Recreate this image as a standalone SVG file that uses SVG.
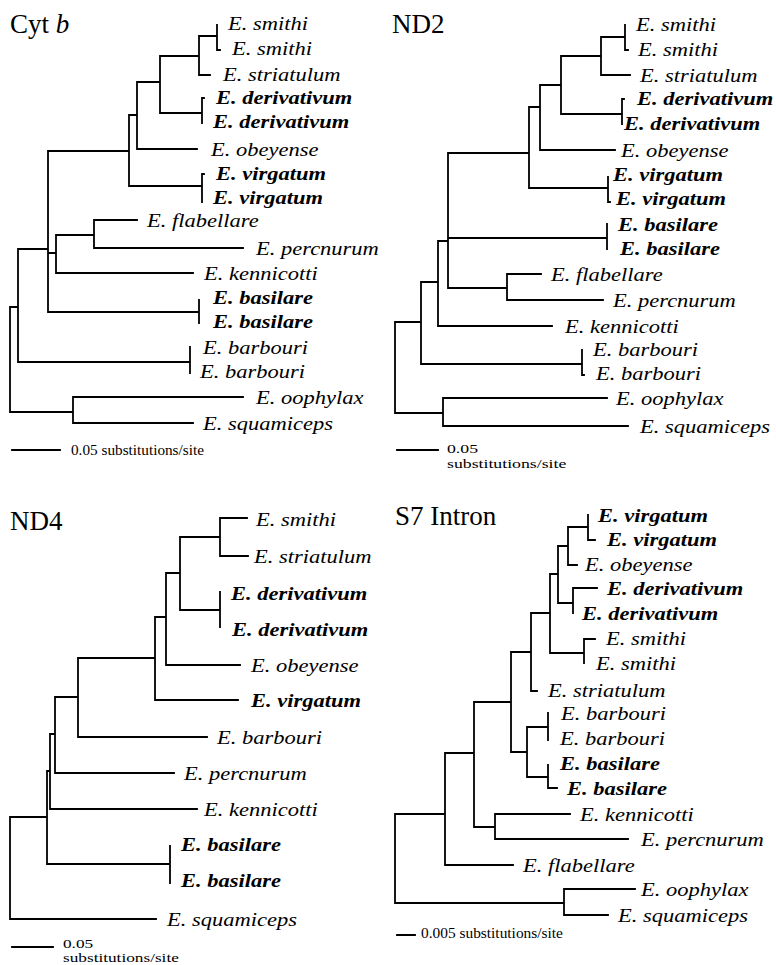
<svg xmlns="http://www.w3.org/2000/svg" width="776" height="965" viewBox="0 0 776 965">
<style>
.lab{font-family:"Liberation Serif","Times New Roman",serif;font-style:italic;font-size:19.5px;fill:#000}
.b{font-weight:bold}
.title{font-family:"Liberation Serif","Times New Roman",serif;font-size:27px;fill:#000}
.sc{font-family:"Liberation Serif","Times New Roman",serif;font-size:14px;fill:#000}
.sc2{font-family:"Liberation Serif","Times New Roman",serif;font-size:12.5px;fill:#000}
.br{fill:none;stroke:#000;stroke-width:1.8;stroke-linecap:square}
</style>
<rect width="776" height="965" fill="#fff"/>
<g id="connectors">
<path id="cytb-tree" class="br" d="M10 307V412M10 307H18M10 412H73
M18 249V362M18 249H48M18 362H190
M48 151V312M48 151H129M48 253H56M48 312H199
M56 235V273M56 235H94M56 273H193
M94 220V248M94 220H137M94 248H243
M129 115V186M129 115H137M129 186H202
M137 82V149M137 82H160M137 149H197
M160 56V113M160 56H199M160 113H202
M199 36V75M199 36H217M199 75H210
M217 25V50M217 50H220
M202 98V123M202 98H204
M202 174V202M202 174H204
M199 300V323
M190 347V373
M73 397V423M73 397H243M73 423H193
M12 450H60"/>
<path id="nd2-tree" class="br" d="M395 322V413M395 322H421M395 413H443
M421 282V364M421 282H438M421 364H582
M438 241V326M438 241H448M438 326H552
M448 153V288M448 153H529M448 238H607M448 288H507
M507 274V300M507 274H541M507 300H603
M529 107V188M529 107H540M529 188H608
M540 85V150M540 85H561M540 150H615
M561 56V114M561 56H601M561 114H622
M601 37V75M601 37H625M601 75H630
M625 25V50M625 50H628
M622 99V124M622 99H624
M608 177V202M608 202H610
M607 224V249
M582 350V375M582 375H584
M443 398V426M443 398H607M443 426H628
M397 450H438"/>
<path id="nd4-tree" class="br" d="M10 817V919M10 817H47M10 919H156
M47 771V864M47 771H50M47 864H170
M50 734V809M50 734H55M50 809H197
M55 697V773M55 697H78M55 773H174
M78 658V737M78 658H155M78 737H207
M155 617V700M155 617H166M155 700H238
M166 573V665M166 573H180M166 665H240
M180 537V610M180 537H220M180 610H220
M220 518V556M220 518H247M220 556H248
M220 592V627
M170 846V883
M12 947H53"/>
<path id="s7-tree" class="br" d="M395 814V903M395 814H445M395 903H564
M445 753V865M445 753H474M445 865H513
M474 702V827M474 702H511M474 827H495
M495 814V839M495 814H570M495 839H628
M511 652V752M511 652H531M511 752H527
M527 727V777M527 727H548M527 777H548
M548 713V740
M548 765V788M548 788H557
M531 613V691M531 613H550M531 691H537
M550 574V653M550 574H558M550 653H584
M584 639V663M584 639H595
M558 546V603M558 546H568M558 603H573
M573 588V613M573 588H597
M568 527V565M568 527H588M568 565H577
M588 515V540M588 540H595
M564 889V915M564 889H635M564 915H608
M397 935H415"/>
</g>
<g id="cytb">
<text class="title" x="10" y="33">Cyt <tspan font-style="italic">b</tspan></text>
<g id="cytb-smithi-1"><text class="lab" transform="translate(228 30) scale(1.154 1)">E. smithi</text></g>
<g id="cytb-smithi-2"><text class="lab" transform="translate(232 55) scale(1.154 1)">E. smithi</text></g>
<g id="cytb-striatulum"><text class="lab" transform="translate(223 81) scale(1.154 1)">E. striatulum</text></g>
<g id="cytb-derivativum-1"><text class="lab b" transform="translate(216 104) scale(1.154 1)">E. derivativum</text></g>
<g id="cytb-derivativum-2"><text class="lab b" transform="translate(213 128) scale(1.154 1)">E. derivativum</text></g>
<g id="cytb-obeyense"><text class="lab" transform="translate(211 156) scale(1.154 1)">E. obeyense</text></g>
<g id="cytb-virgatum-1"><text class="lab b" transform="translate(216 180) scale(1.154 1)">E. virgatum</text></g>
<g id="cytb-virgatum-2"><text class="lab b" transform="translate(213 204) scale(1.154 1)">E. virgatum</text></g>
<g id="cytb-flabellare"><text class="lab" transform="translate(147 227) scale(1.154 1)">E. flabellare</text></g>
<g id="cytb-percnurum"><text class="lab" transform="translate(256 255) scale(1.154 1)">E. percnurum</text></g>
<g id="cytb-kennicotti"><text class="lab" transform="translate(204 280) scale(1.154 1)">E. kennicotti</text></g>
<g id="cytb-basilare-1"><text class="lab b" transform="translate(213 304) scale(1.154 1)">E. basilare</text></g>
<g id="cytb-basilare-2"><text class="lab b" transform="translate(213 328) scale(1.154 1)">E. basilare</text></g>
<g id="cytb-barbouri-1"><text class="lab" transform="translate(203 354) scale(1.154 1)">E. barbouri</text></g>
<g id="cytb-barbouri-2"><text class="lab" transform="translate(200 378) scale(1.154 1)">E. barbouri</text></g>
<g id="cytb-oophylax"><text class="lab" transform="translate(256 404) scale(1.154 1)">E. oophylax</text></g>
<g id="cytb-squamiceps"><text class="lab" transform="translate(203 430) scale(1.154 1)">E. squamiceps</text></g>
<g id="cytb-scale"><text class="sc" transform="translate(71 455) scale(1.09 1)">0.05 substitutions/site</text></g>
</g>
<g id="nd2">
<text class="title" x="392" y="33">ND2</text>
<g id="nd2-smithi-1"><text class="lab" transform="translate(636 31) scale(1.154 1)">E. smithi</text></g>
<g id="nd2-smithi-2"><text class="lab" transform="translate(638 56) scale(1.154 1)">E. smithi</text></g>
<g id="nd2-striatulum"><text class="lab" transform="translate(640 82) scale(1.154 1)">E. striatulum</text></g>
<g id="nd2-derivativum-1"><text class="lab b" transform="translate(637 105) scale(1.154 1)">E. derivativum</text></g>
<g id="nd2-derivativum-2"><text class="lab b" transform="translate(624 130) scale(1.154 1)">E. derivativum</text></g>
<g id="nd2-obeyense"><text class="lab" transform="translate(621 157) scale(1.154 1)">E. obeyense</text></g>
<g id="nd2-virgatum-1"><text class="lab b" transform="translate(613 181) scale(1.154 1)">E. virgatum</text></g>
<g id="nd2-virgatum-2"><text class="lab b" transform="translate(616 205) scale(1.154 1)">E. virgatum</text></g>
<g id="nd2-basilare-1"><text class="lab b" transform="translate(618 231) scale(1.154 1)">E. basilare</text></g>
<g id="nd2-basilare-2"><text class="lab b" transform="translate(620 255) scale(1.154 1)">E. basilare</text></g>
<g id="nd2-flabellare"><text class="lab" transform="translate(551 281) scale(1.154 1)">E. flabellare</text></g>
<g id="nd2-percnurum"><text class="lab" transform="translate(613 307) scale(1.154 1)">E. percnurum</text></g>
<g id="nd2-kennicotti"><text class="lab" transform="translate(565 333) scale(1.154 1)">E. kennicotti</text></g>
<g id="nd2-barbouri-1"><text class="lab" transform="translate(593 356) scale(1.154 1)">E. barbouri</text></g>
<g id="nd2-barbouri-2"><text class="lab" transform="translate(596 380) scale(1.154 1)">E. barbouri</text></g>
<g id="nd2-oophylax"><text class="lab" transform="translate(616 405) scale(1.154 1)">E. oophylax</text></g>
<g id="nd2-squamiceps"><text class="lab" transform="translate(640 433) scale(1.154 1)">E. squamiceps</text></g>
<g id="nd2-scale"><text class="sc2" transform="translate(447 453) scale(1.42 1)">0.05</text><text class="sc2" transform="translate(447 468) scale(1.42 1)">substitutions/site</text></g>
</g>
<g id="nd4">
<text class="title" x="10" y="530">ND4</text>
<g id="nd4-smithi"><text class="lab" transform="translate(256 526) scale(1.154 1)">E. smithi</text></g>
<g id="nd4-striatulum"><text class="lab" transform="translate(254 563) scale(1.154 1)">E. striatulum</text></g>
<g id="nd4-derivativum-1"><text class="lab b" transform="translate(231 600) scale(1.154 1)">E. derivativum</text></g>
<g id="nd4-derivativum-2"><text class="lab b" transform="translate(232 636) scale(1.154 1)">E. derivativum</text></g>
<g id="nd4-obeyense"><text class="lab" transform="translate(251 672) scale(1.154 1)">E. obeyense</text></g>
<g id="nd4-virgatum"><text class="lab b" transform="translate(251 707) scale(1.154 1)">E. virgatum</text></g>
<g id="nd4-barbouri"><text class="lab" transform="translate(217 744) scale(1.154 1)">E. barbouri</text></g>
<g id="nd4-percnurum"><text class="lab" transform="translate(184 780) scale(1.154 1)">E. percnurum</text></g>
<g id="nd4-kennicotti"><text class="lab" transform="translate(204 816) scale(1.154 1)">E. kennicotti</text></g>
<g id="nd4-basilare-1"><text class="lab b" transform="translate(181 851) scale(1.154 1)">E. basilare</text></g>
<g id="nd4-basilare-2"><text class="lab b" transform="translate(181 887) scale(1.154 1)">E. basilare</text></g>
<g id="nd4-squamiceps"><text class="lab" transform="translate(167 926) scale(1.154 1)">E. squamiceps</text></g>
<g id="nd4-scale"><text class="sc2" transform="translate(63 948) scale(1.38 1)">0.05</text><text class="sc2" transform="translate(63 962) scale(1.38 1)">substitutions/site</text></g>
</g>
<g id="s7">
<text class="title" x="395" y="525">S7 Intron</text>
<g id="s7-virgatum-1"><text class="lab b" transform="translate(598 522) scale(1.154 1)">E. virgatum</text></g>
<g id="s7-virgatum-2"><text class="lab b" transform="translate(607 546) scale(1.154 1)">E. virgatum</text></g>
<g id="s7-obeyense"><text class="lab" transform="translate(585 571) scale(1.154 1)">E. obeyense</text></g>
<g id="s7-derivativum-1"><text class="lab b" transform="translate(607 595) scale(1.154 1)">E. derivativum</text></g>
<g id="s7-derivativum-2"><text class="lab b" transform="translate(582 620) scale(1.154 1)">E. derivativum</text></g>
<g id="s7-smithi-1"><text class="lab" transform="translate(606 645) scale(1.154 1)">E. smithi</text></g>
<g id="s7-smithi-2"><text class="lab" transform="translate(596 670) scale(1.154 1)">E. smithi</text></g>
<g id="s7-striatulum"><text class="lab" transform="translate(548 697) scale(1.154 1)">E. striatulum</text></g>
<g id="s7-barbouri-1"><text class="lab" transform="translate(561 720) scale(1.154 1)">E. barbouri</text></g>
<g id="s7-barbouri-2"><text class="lab" transform="translate(560 745) scale(1.154 1)">E. barbouri</text></g>
<g id="s7-basilare-1"><text class="lab b" transform="translate(560 770) scale(1.154 1)">E. basilare</text></g>
<g id="s7-basilare-2"><text class="lab b" transform="translate(567 795) scale(1.154 1)">E. basilare</text></g>
<g id="s7-kennicotti"><text class="lab" transform="translate(580 821) scale(1.154 1)">E. kennicotti</text></g>
<g id="s7-percnurum"><text class="lab" transform="translate(641 846) scale(1.154 1)">E. percnurum</text></g>
<g id="s7-flabellare"><text class="lab" transform="translate(523 872) scale(1.154 1)">E. flabellare</text></g>
<g id="s7-oophylax"><text class="lab" transform="translate(641 896) scale(1.154 1)">E. oophylax</text></g>
<g id="s7-squamiceps"><text class="lab" transform="translate(618 922) scale(1.154 1)">E. squamiceps</text></g>
<g id="s7-scale"><text class="sc" transform="translate(421 938) scale(1.1 1)">0.005 substitutions/site</text></g>
</g>
</svg>
